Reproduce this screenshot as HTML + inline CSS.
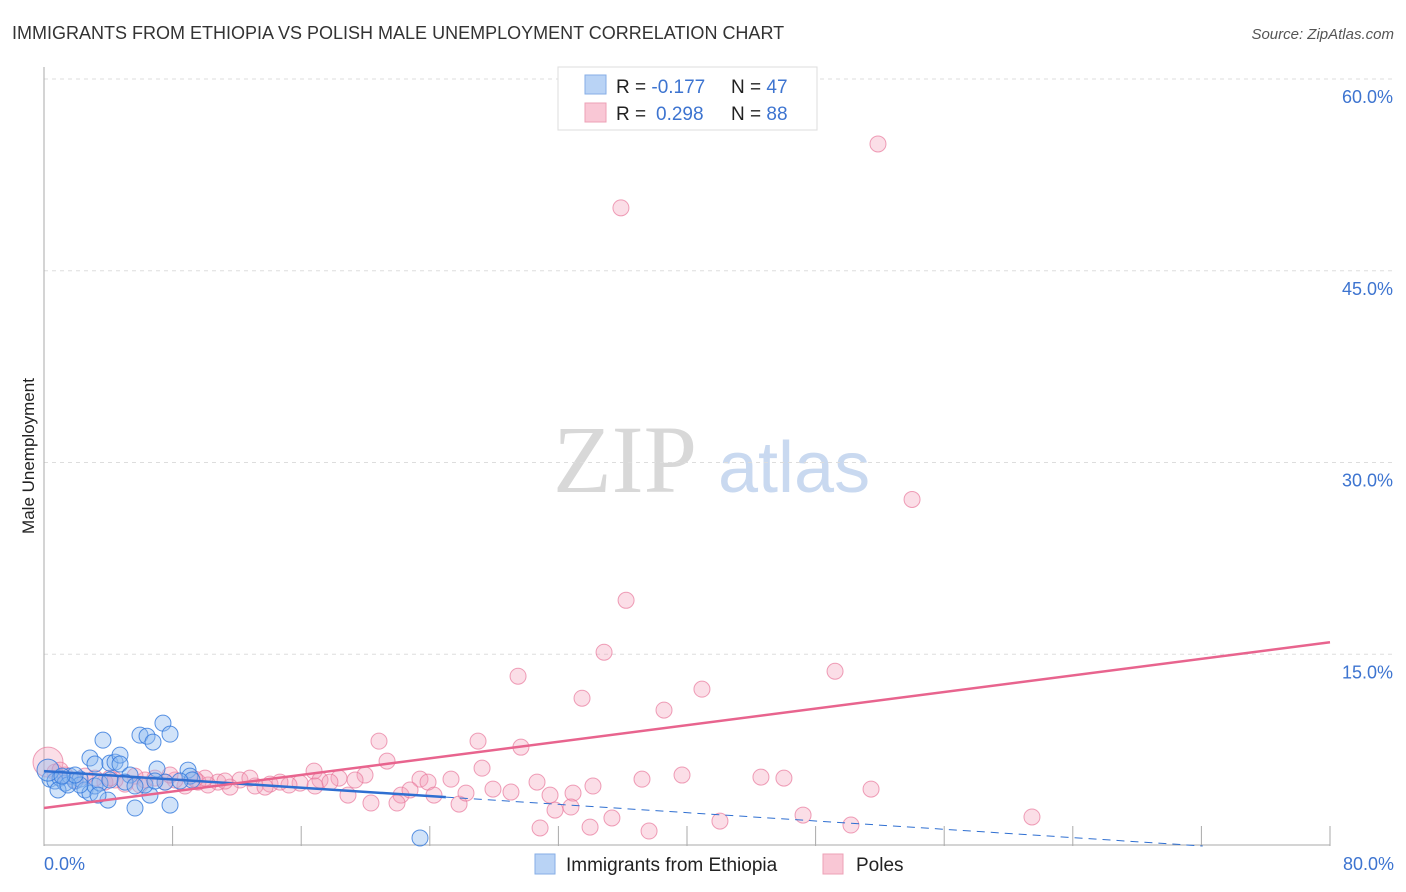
<!DOCTYPE html>
<html><head><meta charset="utf-8"><style>
body{margin:0;background:#fff;font-family:"Liberation Sans",sans-serif}
svg{display:block}
</style></head><body>
<svg id="c" width="1406" height="892" xmlns="http://www.w3.org/2000/svg">
<text x="12" y="39" font-size="18" fill="#333">IMMIGRANTS FROM ETHIOPIA VS POLISH MALE UNEMPLOYMENT CORRELATION CHART</text>
<text x="1394" y="39" font-size="15" fill="#555" font-style="italic" text-anchor="end">Source: ZipAtlas.com</text>
<text x="34" y="456" font-size="17" fill="#222" text-anchor="middle" transform="rotate(-90 34 456)">Male Unemployment</text>
<g><text x="553" y="492" font-size="96" font-family="Liberation Serif,serif" fill="#d8d8d8">ZIP</text><text x="718" y="492" font-size="72" fill="#c9d9f0">atlas</text></g>
<g id="grid"></g><g id="axes"></g><g id="marks"></g>
<g>
<rect x="558" y="67" width="259" height="63" fill="#fff" stroke="#ddd"/>
<rect x="585" y="75" width="21" height="19" fill="#b9d3f5" stroke="#86aee6"/>
<rect x="585" y="103" width="21" height="19" fill="#f9c7d5" stroke="#eda0b6"/>
<text x="616" y="93" font-size="19" fill="#222">R = <tspan fill="#3d74d0">-0.177</tspan><tspan x="731">N = </tspan><tspan fill="#3d74d0">47</tspan></text>
<text x="616" y="120" font-size="19" fill="#222">R = <tspan x="656" fill="#3d74d0">0.298</tspan><tspan x="731">N = </tspan><tspan fill="#3d74d0">88</tspan></text>
</g>
<g>
<rect x="535" y="854" width="20" height="20" fill="#b9d3f5" stroke="#86aee6"/>
<text x="566" y="871" font-size="19" fill="#222">Immigrants from Ethiopia</text>
<rect x="823" y="854" width="20" height="20" fill="#f9c7d5" stroke="#eda0b6"/>
<text x="856" y="871" font-size="19" fill="#222">Poles</text>
</g>
</svg>
<script>
const yTicks=[15,30,45,60];
const yTickLabels=["15.0%","30.0%","45.0%","60.0%"];
const xTicks=[8,16,24,32,40,48,56,64,72,80];
const xEdgeLabels=["0.0%","80.0%"];
const blueX=[.37,.68,1,1.31,1.62,1.93,2.24,2.55,2.86,3.17,3.48,2.86,3.17,3.67,4.1,4.42,4.73,4.73,5.35,5.66,5.97,6.41,6.78,7.4,7.84,7.03,6.59,7.84,8.96,9.08,7.53,6.28,5.04,3.98,3.36,23.39,2.24,.87,1.49,9.21,.25,4.1,1.93,1.12,8.46,5.66,6.9];
const blueY=[5.23,5.08,5.31,4.92,5.47,5.08,5.23,4.38,4.14,4.69,4.92,6.88,6.41,8.28,6.48,6.56,7.11,6.41,5.55,2.97,8.67,8.59,8.13,9.61,8.75,6.02,3.98,3.2,5.94,5.47,5.0,4.77,5.0,3.59,3.98,.63,4.77,4.38,4.77,5.16,5.94,5.16,5.55,5.47,5.08,4.69,5.08];
const pinkX=[51.88,35.89,54,36.21,34.84,29.49,49.21,33.47,40.93,38.57,27,29.67,20.84,21.34,16.8,27.25,19.97,18.35,19.35,23.39,23.89,25.32,27.93,29.05,30.67,31.48,32.91,34.15,37.2,39.69,44.6,46.03,51.45,20.34,22.21,22.77,24.26,25.82,26.25,30.86,31.79,32.78,33.97,35.33,37.64,42.05,47.22,50.2,61.46,21.96,18.91,15.93,15.24,14.06,13.13,12.19,11.57,10.82,10.2,9.58,8.77,8.15,7.53,6.9,6.28,5.66,5.04,4.42,3.79,3.17,2.55,1.93,1.31,.68,.25,1,4.1,12.81,14.68,17.17,17.79,10.02,11.26,13.75,16.86,5.97,7.84,9.39];
const pinkY=[54.92,49.92,27.11,19.22,15.16,13.28,13.67,11.56,12.27,10.63,8.2,7.73,8.2,6.64,5.86,6.09,5.55,5.31,5.16,5.23,5.0,5.23,4.45,4.22,5.0,3.98,4.14,4.69,5.23,5.55,5.39,5.31,4.45,3.36,3.98,4.38,3.98,3.28,4.14,1.41,2.81,3.05,1.48,2.19,1.17,1.95,2.42,1.64,2.27,3.36,3.98,4.92,4.77,4.84,4.69,5.16,4.61,5.0,4.77,5.0,4.69,5.16,5.0,5.31,5.16,5.47,4.84,5.16,5.0,5.31,5.47,5.16,5.55,5.78,6.56,5.94,5.31,5.31,5.0,5.16,5.0,5.31,5.08,4.61,4.69,4.77,5.55,5.23];
const blueTrend=[5.86,-0.0813];
const pinkTrend=[2.97,0.1621];
const blueSolidEnd=25;
const X0=44,X1=1330,Y0=846,YT=79;
const sx=v=>X0+(X1-X0)*v/80;
const sy=v=>Y0-(Y0-YT)*v/60;
const NS="http://www.w3.org/2000/svg";
function mk(tag,attrs,parent){const e=document.createElementNS(NS,tag);for(const k in attrs)e.setAttribute(k,attrs[k]);parent.appendChild(e);return e;}
const grid=document.getElementById('grid'),axes=document.getElementById('axes'),marks=document.getElementById('marks');
yTicks.forEach((t,i)=>{
 const l=mk('line',{x1:X0,x2:1394,y1:sy(t),y2:sy(t),stroke:'#ddd','stroke-dasharray':'4 4'},grid);
 
 
 const tx=mk('text',{x:1393,y:sy(t)+24,'font-size':18,fill:'#3d74d0','text-anchor':'end'},axes);
 tx.textContent=yTickLabels[i];
 
 
});
const ya=mk('line',{x1:X0,x2:X0,y1:67,y2:Y0,stroke:'#aaa'},axes);


const xa=mk('line',{x1:X0,x2:X1,y1:Y0-1,y2:Y0-1,stroke:'#aaa'},axes);


xTicks.forEach(t=>{
 const l=mk('line',{x1:sx(t),x2:sx(t),y1:Y0-20,y2:Y0,stroke:'#aaa'},axes);
 
 
});
[[0,'start',X0],[1,'end',1394]].forEach(([i,a,x])=>{
 const tx=mk('text',{x:x,y:870,'font-size':18,fill:'#3d74d0','text-anchor':a},axes);
 tx.textContent=xEdgeLabels[i];
 
 
});
pinkX.forEach((x,i)=>{
 const c=mk('circle',{cx:sx(x),cy:sy(pinkY[i]),r:i==74?15:8,fill:'rgba(244,160,185,0.35)',stroke:'rgba(232,120,155,0.7)','stroke-width':1},marks);
 
 
});
blueX.forEach((x,i)=>{
 const c=mk('circle',{cx:sx(x),cy:sy(blueY[i]),r:i==40?11:8,fill:'rgba(140,185,240,0.4)',stroke:'rgba(50,120,220,0.8)','stroke-width':1},marks);
 
 
});
const bf=x=>blueTrend[0]+blueTrend[1]*x;
const bEnd=-blueTrend[0]/blueTrend[1];
const bs=mk('line',{x1:sx(0),y1:sy(bf(0)),x2:sx(blueSolidEnd),y2:sy(bf(blueSolidEnd)),stroke:'#2f6fd1','stroke-width':2.5},marks);


const bd=mk('line',{x1:sx(blueSolidEnd),y1:sy(bf(blueSolidEnd)),x2:sx(bEnd),y2:sy(0),stroke:'#2f6fd1','stroke-width':1,'stroke-dasharray':'8 6'},marks);


const pf=x=>pinkTrend[0]+pinkTrend[1]*x;
const pl=mk('line',{x1:sx(0),y1:sy(pf(0)),x2:sx(80),y2:sy(pf(80)),stroke:'#e8648e','stroke-width':2.5},marks);


</script>
</body></html>
